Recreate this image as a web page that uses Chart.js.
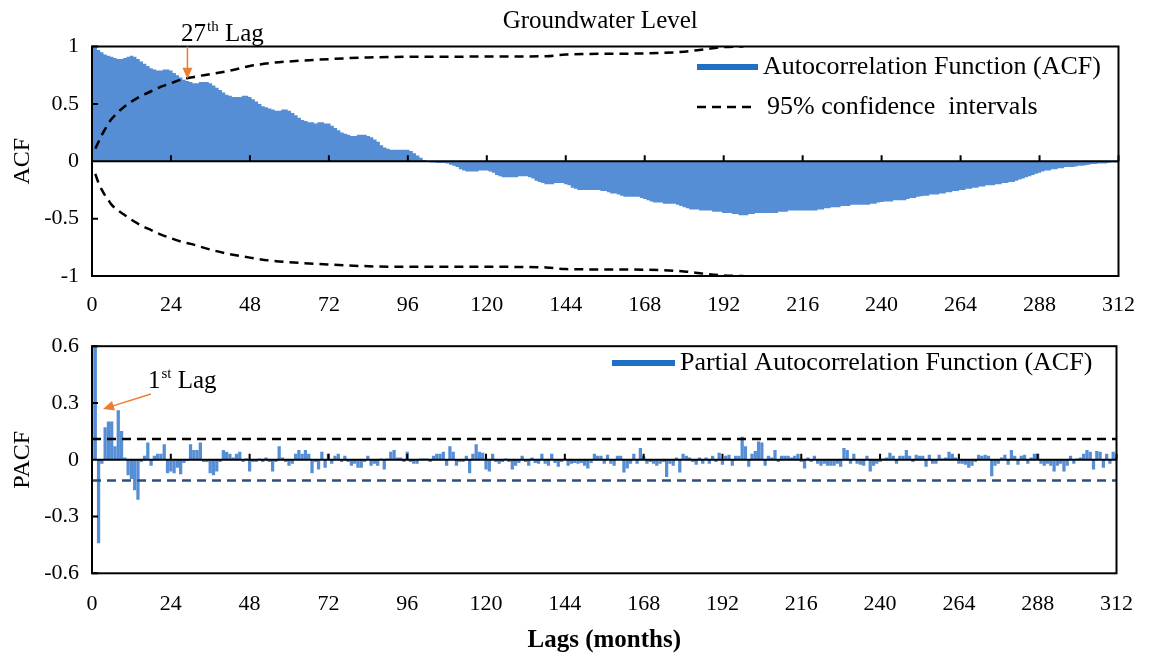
<!DOCTYPE html>
<html>
<head>
<meta charset="utf-8">
<title>Groundwater Level - ACF / PACF</title>
<script src="https://cdn.jsdelivr.net/npm/chart.js@4.4.1/dist/chart.umd.min.js"></script>
<style>
  html, body { margin: 0; padding: 0; background: #fff; }
  #wrap { position: relative; width: 1151px; height: 657px; }
  canvas { position: absolute; left: 0; }
  #acfChart { top: 0; }
  #pacfChart { top: 320px; }
</style>
</head>
<body>
<div id="wrap">
  <canvas id="acfChart" width="1151" height="320"></canvas>
  <canvas id="pacfChart" width="1151" height="337"></canvas>
</div>
<script>
"use strict";

// lag index 0..312 (months)
const lags = Array.from({ length: 313 }, (_, i) => i);
const xTickStep = 24;

// autocorrelation, one value per lag
const acf = [
  1.00, 0.99, 0.97, 0.95, 0.93, 0.92, 0.91, 0.90, 0.89, 0.89, 0.90, 0.91,          // 0
  0.92, 0.91, 0.89, 0.87, 0.85, 0.83, 0.81, 0.80, 0.79, 0.79, 0.80, 0.80,          // 12
  0.79, 0.77, 0.75, 0.73, 0.71, 0.70, 0.69, 0.68, 0.68, 0.69, 0.69, 0.69,          // 24
  0.68, 0.66, 0.64, 0.62, 0.60, 0.58, 0.57, 0.56, 0.56, 0.56, 0.57, 0.57,          // 36
  0.56, 0.54, 0.52, 0.50, 0.48, 0.47, 0.46, 0.45, 0.44, 0.44, 0.45, 0.45,          // 48
  0.44, 0.42, 0.40, 0.38, 0.36, 0.35, 0.34, 0.34, 0.33, 0.34, 0.34, 0.33,          // 60
  0.33, 0.31, 0.29, 0.27, 0.25, 0.24, 0.23, 0.22, 0.22, 0.23, 0.23, 0.23,          // 72
  0.22, 0.21, 0.19, 0.17, 0.14, 0.12, 0.11, 0.10, 0.10, 0.10, 0.10, 0.10,          // 84
  0.10, 0.09, 0.07, 0.05, 0.03, 0.01, 0.00, -0.01, -0.01, -0.015, -0.015, -0.015,  // 96
  -0.02, -0.03, -0.04, -0.05, -0.07, -0.08, -0.09, -0.09, -0.09, -0.09, -0.08, -0.08, // 108
  -0.08, -0.09, -0.10, -0.12, -0.13, -0.14, -0.14, -0.14, -0.14, -0.14, -0.13, -0.13, // 120
  -0.13, -0.14, -0.15, -0.17, -0.18, -0.19, -0.20, -0.20, -0.20, -0.19, -0.19, -0.19, // 132
  -0.20, -0.21, -0.23, -0.24, -0.25, -0.25, -0.25, -0.25, -0.25, -0.25, -0.25, -0.26, // 144
  -0.26, -0.27, -0.28, -0.28, -0.29, -0.30, -0.31, -0.31, -0.31, -0.31, -0.31, -0.32, // 156
  -0.33, -0.34, -0.35, -0.36, -0.36, -0.36, -0.37, -0.37, -0.37, -0.37, -0.38, -0.39, // 168
  -0.40, -0.41, -0.42, -0.42, -0.42, -0.43, -0.43, -0.43, -0.43, -0.44, -0.44, -0.44, // 180
  -0.45, -0.45, -0.45, -0.46, -0.46, -0.47, -0.47, -0.47, -0.46, -0.46, -0.45, -0.45, // 192
  -0.45, -0.45, -0.45, -0.45, -0.45, -0.44, -0.44, -0.44, -0.43, -0.43, -0.43, -0.43, // 204
  -0.43, -0.43, -0.43, -0.43, -0.43, -0.42, -0.42, -0.41, -0.41, -0.40, -0.40, -0.40, // 216
  -0.39, -0.39, -0.39, -0.38, -0.38, -0.38, -0.38, -0.38, -0.38, -0.37, -0.37, -0.36, // 228
  -0.355, -0.35, -0.35, -0.35, -0.34, -0.34, -0.34, -0.34, -0.33, -0.32, -0.32, -0.31, // 240
  -0.305, -0.30, -0.30, -0.29, -0.29, -0.29, -0.28, -0.28, -0.27, -0.27, -0.26, -0.26, // 252
  -0.25, -0.25, -0.24, -0.24, -0.23, -0.23, -0.22, -0.22, -0.21, -0.21, -0.21, -0.20, // 264
  -0.20, -0.19, -0.19, -0.18, -0.18, -0.17, -0.16, -0.15, -0.14, -0.13, -0.12, -0.11, // 276
  -0.10, -0.09, -0.08, -0.08, -0.07, -0.07, -0.06, -0.06, -0.05, -0.05, -0.05, -0.045, // 288
  -0.04, -0.04, -0.035, -0.03, -0.025, -0.025, -0.02, -0.02, -0.02, -0.015, -0.01, -0.01, // 300
  -0.01                                                                              // 312
];

// 95% confidence band of the ACF (dashed curves)
const ciLags  = [1, 2, 3, 4, 5, 6, 8, 10, 12, 15, 18, 21, 24, 27, 30, 36, 42, 48, 54, 60, 72, 84, 96, 120, 138, 144, 168, 180, 186, 192, 198];
const ciUpper = [0.11, 0.17, 0.23, 0.28, 0.33, 0.37, 0.43, 0.48, 0.52, 0.57, 0.61, 0.65, 0.68, 0.71, 0.73, 0.76, 0.79, 0.83, 0.855, 0.87, 0.89, 0.905, 0.91, 0.912, 0.915, 0.93, 0.94, 0.955, 0.975, 0.995, 1.0];
const ciLower = [-0.11, -0.19, -0.25, -0.30, -0.34, -0.38, -0.43, -0.47, -0.51, -0.56, -0.60, -0.64, -0.67, -0.70, -0.72, -0.77, -0.81, -0.84, -0.865, -0.88, -0.90, -0.915, -0.92, -0.92, -0.925, -0.94, -0.945, -0.96, -0.98, -0.995, -1.0];

// partial autocorrelation, one value per lag
const pacf = [
  1.00, 0.98, -0.44, -0.02, 0.17, 0.20, 0.20, 0.07, 0.26, 0.15, 0.01, -0.08,        // 0
  -0.10, -0.16, -0.21, -0.01, 0.02, 0.09, -0.03, 0.02, 0.03, 0.03, 0.08, -0.07,     // 12
  -0.06, -0.07, -0.04, -0.075, -0.015, -0.005, 0.08, 0.05, 0.05, 0.09, -0.01, -0.01, // 24
  -0.07, -0.08, -0.06, -0.01, 0.05, 0.04, 0.03, 0.01, 0.03, 0.04, -0.01, 0.005,     // 36
  -0.06, -0.01, -0.01, 0.005, -0.01, 0.01, -0.01, -0.06, -0.01, 0.07, 0.01, -0.01,  // 48
  -0.03, -0.02, 0.03, 0.05, 0.03, 0.05, 0.03, -0.07, -0.01, -0.05, 0.04, -0.04,     // 60
  0.03, -0.02, 0.02, 0.03, -0.01, 0.02, -0.01, -0.03, -0.02, -0.04, -0.04, -0.01,   // 72
  0.02, -0.03, -0.02, -0.03, 0.005, -0.05, 0.005, 0.04, 0.05, 0.01, 0.01, -0.01,    // 84
  0.04, -0.01, -0.02, -0.02, 0.005, 0.005, 0.005, -0.01, 0.02, 0.03, 0.03, 0.04,    // 96
  -0.03, 0.07, 0.04, -0.03, -0.01, -0.01, 0.02, -0.07, 0.03, 0.08, 0.04, 0.035,     // 108
  -0.05, -0.06, 0.03, -0.01, -0.02, -0.01, 0.005, -0.01, -0.05, -0.03, -0.015, 0.02, // 120
  -0.01, -0.03, 0.01, -0.015, -0.02, 0.03, -0.02, -0.03, 0.03, -0.015, -0.035, -0.01, // 132
  0.005, -0.03, -0.02, -0.015, -0.02, -0.015, -0.03, -0.045, -0.015, 0.03, 0.02, 0.02, // 144
  -0.02, 0.025, -0.02, -0.03, 0.02, 0.02, -0.065, -0.045, -0.02, 0.03, -0.02, 0.06,  // 156
  0.02, -0.02, -0.01, -0.02, -0.03, -0.02, -0.01, -0.09, -0.02, -0.03, 0.01, -0.065, // 168
  0.03, 0.02, 0.01, -0.01, -0.025, 0.01, -0.02, 0.01, -0.02, 0.02, -0.01, 0.035,     // 180
  -0.025, 0.02, 0.025, -0.03, 0.02, 0.02, 0.12, 0.07, -0.035, 0.03, 0.045, 0.095,    // 192
  0.09, -0.03, 0.02, 0.01, 0.05, -0.01, 0.02, 0.02, 0.02, 0.01, 0.02, 0.03,          // 204
  -0.01, -0.045, 0.01, -0.01, 0.02, -0.02, -0.03, -0.02, -0.03, -0.03, -0.03, -0.02,  // 216
  -0.035, 0.06, 0.05, -0.02, 0.03, -0.02, -0.025, -0.03, 0.02, -0.06, -0.03, -0.02,  // 228
  -0.01, 0.005, 0.01, 0.035, 0.02, -0.02, 0.02, 0.02, 0.05, 0.02, -0.01, 0.025,      // 240
  0.02, 0.02, -0.035, 0.025, -0.02, -0.02, 0.025, 0.005, 0.01, 0.04, 0.03, 0.01,     // 252
  -0.02, -0.02, -0.025, -0.04, -0.03, -0.01, 0.025, 0.02, 0.025, 0.02, -0.085, -0.03, // 264
  -0.02, 0.01, 0.025, -0.025, 0.05, 0.02, -0.025, 0.02, 0.025, -0.02, 0.01, 0.03,    // 276
  0.03, -0.02, -0.03, -0.02, -0.03, -0.06, -0.03, -0.02, -0.06, -0.03, 0.02, -0.02,  // 288
  0.005, 0.01, 0.03, 0.05, 0.04, -0.05, 0.045, 0.04, -0.04, 0.03, -0.02, 0.04,       // 300
  0.01                                                                               // 312
];
const pacfLimit = 0.11;

const barBlue = '#558ED5';
const legendBlue = '#1F6FC5';
const orange = '#ED7D31';
const serif = "'Liberation Serif', 'Times New Roman', serif";

Chart.defaults.font.family = serif;
Chart.defaults.color = '#000';

// black box round the plot area, zero line with its little ticks, inward y ticks
const frame = {
  id: 'frame',
  afterDatasetsDraw(chart) {
    const { ctx, chartArea: a, scales: { x, y } } = chart;
    const y0 = y.getPixelForValue(0);
    ctx.save();
    ctx.strokeStyle = '#000';
    ctx.lineWidth = 2;
    ctx.beginPath();
    ctx.moveTo(a.left, y0);
    ctx.lineTo(a.right, y0);
    x.ticks.forEach(t => {
      const px = x.getPixelForValue(t.value);
      ctx.moveTo(px, y0);
      ctx.lineTo(px, y0 - 6);
    });
    y.ticks.forEach(t => {
      const py = y.getPixelForValue(t.value);
      ctx.moveTo(a.left, py);
      ctx.lineTo(a.left + 6, py);
    });
    ctx.stroke();
    ctx.strokeRect(a.left, a.top, a.width, a.height);
    ctx.restore();
  }
};

function arrow(ctx, x1, y1, x2, y2) {
  const ang = Math.atan2(y2 - y1, x2 - x1);
  const c = Math.cos(ang), s = Math.sin(ang);
  ctx.strokeStyle = orange;
  ctx.fillStyle = orange;
  ctx.lineWidth = 1.5;
  ctx.setLineDash([]);
  ctx.beginPath();
  ctx.moveTo(x1, y1);
  ctx.lineTo(x2 - 8 * c, y2 - 8 * s);
  ctx.stroke();
  ctx.beginPath();
  ctx.moveTo(x2, y2);
  ctx.lineTo(x2 - 11 * c + 5 * s, y2 - 11 * s - 5 * c);
  ctx.lineTo(x2 - 11 * c - 5 * s, y2 - 11 * s + 5 * c);
  ctx.closePath();
  ctx.fill();
}

function lagNote(ctx, x, y, num, sup) {
  ctx.fillStyle = '#000';
  ctx.textBaseline = 'alphabetic';
  ctx.textAlign = 'left';
  ctx.font = '25px ' + serif;
  ctx.fillText(num, x, y);
  let w = ctx.measureText(num).width + 1;
  ctx.font = '15px ' + serif;
  ctx.fillText(sup, x + w, y - 10);
  w += ctx.measureText(sup).width;
  ctx.font = '25px ' + serif;
  ctx.fillText(' Lag', x + w, y);
}

function legendItem(ctx, x1, x2, y, text, dashed) {
  ctx.save();
  ctx.beginPath();
  if (dashed) {
    ctx.strokeStyle = '#000';
    ctx.lineWidth = 2.5;
    ctx.setLineDash([9, 6]);
  } else {
    ctx.strokeStyle = legendBlue;
    ctx.lineWidth = 6;
  }
  ctx.moveTo(x1, y);
  ctx.lineTo(x2, y);
  ctx.stroke();
  ctx.fillStyle = '#000';
  ctx.font = '26px ' + serif;
  ctx.textBaseline = 'middle';
  ctx.textAlign = 'left';
  ctx.fillText(text, x2 + (dashed ? 10 : 5), y);
  ctx.restore();
}

const acfNotes = {
  id: 'acfNotes',
  afterDraw(chart) {
    const { ctx, chartArea: a, scales: { x, y } } = chart;
    ctx.save();
    ctx.fillStyle = '#000';
    ctx.font = '25px ' + serif;
    ctx.textAlign = 'center';
    ctx.textBaseline = 'middle';
    ctx.fillText('Groundwater Level', (a.left + a.right) / 2 - 5, 21);
    lagNote(ctx, 181, 41, '27', 'th');
    const ax = x.getPixelForValue(29);
    arrow(ctx, ax, a.top, ax, y.getPixelForValue(0.72));
    legendItem(ctx, 697, 758, 67, 'Autocorrelation Function (ACF)', false);
    legendItem(ctx, 697, 757, 107, '95% confidence  intervals', true);
    ctx.restore();
  }
};

const pacfNotes = {
  id: 'pacfNotes',
  afterDraw(chart) {
    const { ctx } = chart;
    ctx.save();
    lagNote(ctx, 148, 68, '1', 'st');
    arrow(ctx, 151, 74, 103, 89);
    legendItem(ctx, 612, 675, 43, 'Partial Autocorrelation Function (ACF)', false);
    ctx.restore();
  }
};

const points = (xs, ys) => xs.map((v, i) => ({ x: v, y: ys[i] }));
const plainNumber = v => String(Number(v.toFixed(2)));

function xScale(padding, extra) {
  return Object.assign({
    type: 'linear',
    min: 0,
    max: 312,
    offset: false,
    grid: { display: false, offset: false, drawTicks: false },
    border: { display: false },
    ticks: { stepSize: xTickStep, autoSkip: false, maxRotation: 0, padding: padding, font: { size: 22 } }
  }, extra);
}

function yScale(min, max, step, title) {
  return {
    min: min, max: max,
    grid: { display: false, drawTicks: false },
    border: { display: false },
    ticks: { stepSize: step, padding: 13, font: { size: 22 }, callback: plainNumber },
    title: { display: true, text: title, font: { size: 24 }, padding: { top: 8, bottom: 0 } },
    afterFit: s => { s.width = 92; }
  };
}

new Chart(document.getElementById('acfChart'), {
  type: 'bar',
  data: {
    labels: lags,
    datasets: [
      {
        type: 'line', data: points(ciLags, ciUpper), borderColor: '#000', borderWidth: 2.5,
        borderDash: [9, 6], pointRadius: 0, cubicInterpolationMode: 'monotone', order: 0
      },
      {
        type: 'line', data: points(ciLags, ciLower), borderColor: '#000', borderWidth: 2.5,
        borderDash: [9, 6], pointRadius: 0, cubicInterpolationMode: 'monotone', order: 0
      },
      {
        // gap-less columns: one step per lag, filled down to zero
        type: 'line', label: 'Autocorrelation Function (ACF)', data: points(lags, acf),
        stepped: 'middle', fill: 'origin', backgroundColor: barBlue, borderColor: barBlue,
        borderWidth: 0, pointRadius: 0, order: 1
      }
    ]
  },
  options: {
    responsive: false,
    animation: false,
    layout: { padding: { left: 0, right: 23, top: 46.5, bottom: 0 } },
    plugins: { legend: { display: false }, tooltip: { enabled: false } },
    scales: {
      x: xScale(16, { afterFit: s => { s.height = 44; } }),
      y: yScale(-1, 1, 0.5, 'ACF')
    }
  },
  plugins: [frame, acfNotes]
});

new Chart(document.getElementById('pacfChart'), {
  type: 'bar',
  data: {
    labels: lags,
    datasets: [
      {
        type: 'line', data: points([0, 312], [pacfLimit, pacfLimit]), borderColor: '#000',
        borderWidth: 2.5, borderDash: [9, 6], pointRadius: 0, order: 0
      },
      {
        type: 'line', data: points([0, 312], [-pacfLimit, -pacfLimit]), borderColor: '#2E4D7B',
        borderWidth: 2.5, borderDash: [9, 6], pointRadius: 0, order: 0
      },
      {
        label: 'Partial Autocorrelation Function (ACF)', data: pacf, backgroundColor: barBlue,
        barThickness: 2.6, borderWidth: 0, clip: 0, order: 1
      }
    ]
  },
  options: {
    responsive: false,
    animation: false,
    layout: { padding: { left: 0, right: 23, top: 23.3, bottom: 0 } },
    plugins: { legend: { display: false }, tooltip: { enabled: false } },
    scales: {
      x: xScale(18, {
        title: { display: true, text: 'Lags (months)', font: { size: 25, weight: 'bold' }, padding: { top: 0, bottom: 1 } },
        afterFit: s => { s.height = 83.7; }
      }),
      y: yScale(-0.6, 0.6, 0.3, 'PACF')
    }
  },
  plugins: [frame, pacfNotes]
});
</script>
</body>
</html>
